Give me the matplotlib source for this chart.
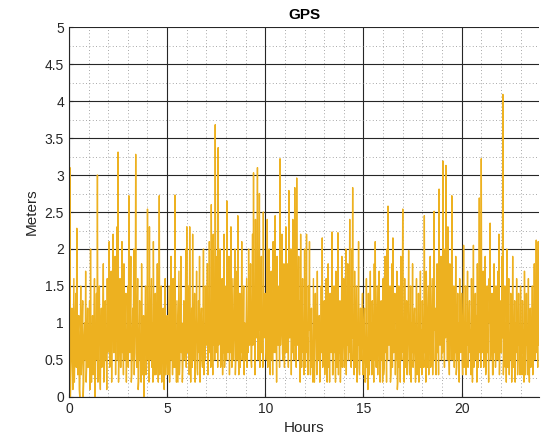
# gps_error.py

import matplotlib
matplotlib.use("Agg")
import matplotlib.pyplot as plt
import numpy as np
from matplotlib.ticker import MultipleLocator

plt.rcParams["font.family"] = ["Liberation Sans", "DejaVu Sans"]

# GPS error (meters). Two interleaved sample sets,
# each with 20 samples per hour (so 40 samples per hour in total).
peak00 = [2.1, 3.1, 0.4, 1.2, 0.1, 1.6, 0.6, 1.4, 2.28, 0.3, 1.1, 0.0, 1.5, 0.5, 1.3, 0.2, 1.0, 1.7, 0.4, 1.2]
peak01 = [0.6, 1.3, 2.0, 0.2, 1.1, 0.5, 1.6, 0.3, 1.4, 3.0, 0.8, 1.5, 0.1, 1.2, 0.7, 1.8, 0.4, 1.3, 0.9, 1.6]
peak02 = [0.7, 2.1, 0.5, 1.7, 1.0, 2.2, 0.6, 1.9, 1.2, 2.3, 3.31, 0.8, 1.6, 0.4, 2.1, 1.0, 1.8, 0.5, 1.4, 0.9]
peak03 = [1.5, 2.72, 0.6, 1.9, 0.3, 1.2, 2.0, 0.8, 3.28, 0.4, 1.6, 0.2, 1.3, 0.7, 1.8, 0.3, 1.1, 0.6, 1.5, 0.4]
peak04 = [2.54, 0.9, 2.3, 0.5, 1.6, 1.0, 2.1, 0.3, 1.4, 0.7, 1.8, 0.2, 2.72, 0.5, 1.5, 0.8, 1.2, 0.1, 1.6, 0.6]
peak05 = [1.1, 0.3, 1.5, 0.6, 1.9, 1.0, 1.6, 0.4, 2.73, 0.8, 1.3, 0.2, 1.7, 0.5, 1.9, 1.0, 0.4, 1.3, 0.7, 2.0]
peak06 = [2.3, 0.6, 1.5, 2.3, 0.2, 1.2, 2.2, 0.5, 1.4, 0.8, 1.7, 0.3, 1.3, 1.9, 0.6, 1.2, 0.4, 2.0, 0.9, 1.5]
peak07 = [0.7, 1.8, 0.5, 2.1, 1.2, 2.6, 0.9, 2.2, 1.4, 3.68, 0.6, 1.9, 3.37, 0.8, 2.0, 0.5, 1.6, 1.1, 2.2, 0.6]
peak08 = [1.5, 2.65, 0.6, 1.9, 1.1, 2.3, 0.4, 1.6, 0.8, 2.0, 0.5, 1.7, 2.45, 0.3, 1.4, 0.9, 2.1, 0.6, 1.5, 1.0]
peak09 = [0.5, 1.6, 1.0, 2.0, 0.7, 1.8, 0.4, 2.2, 3.03, 1.1, 2.4, 0.8, 3.1, 1.3, 2.75, 0.6, 1.9, 1.1, 2.5, 0.8]
peak10 = [1.4, 0.5, 2.4, 0.9, 2.0, 0.3, 1.7, 1.0, 2.1, 0.6, 2.45, 1.2, 1.9, 0.7, 1.5, 3.22, 0.9, 2.2, 0.5, 1.8]
peak11 = [1.0, 2.3, 0.6, 1.8, 2.79, 0.8, 2.0, 1.2, 2.4, 0.5, 2.83, 1.1, 2.96, 0.7, 1.9, 1.3, 2.2, 0.4, 1.6, 1.0]
peak12 = [2.0, 0.4, 2.2, 0.8, 1.5, 2.1, 0.3, 1.2, 0.7, 1.6, 0.2, 1.4, 0.9, 1.7, 0.5, 1.1, 0.3, 1.5, 2.15, 0.6]
peak13 = [1.3, 0.5, 1.6, 0.2, 1.8, 0.9, 1.4, 0.6, 2.23, 0.3, 1.5, 1.0, 1.7, 0.4, 2.22, 0.8, 1.3, 0.5, 1.9, 0.7]
peak14 = [1.6, 0.6, 2.0, 1.1, 1.8, 0.5, 2.4, 1.3, 2.0, 2.83, 0.9, 1.7, 0.4, 1.5, 1.0, 2.1, 0.3, 1.2, 0.7, 1.4]
peak15 = [0.5, 1.2, 0.2, 1.6, 0.8, 1.4, 0.3, 1.7, 1.0, 1.3, 0.6, 1.8, 2.1, 0.4, 1.5, 0.9, 1.7, 0.2, 1.3, 0.7]
peak16 = [1.6, 0.4, 1.9, 1.1, 2.0, 2.58, 0.7, 1.5, 0.3, 1.8, 2.15, 0.6, 1.4, 0.9, 1.7, 0.2, 1.5, 0.8, 1.9, 0.5]
peak17 = [2.54, 0.9, 1.6, 0.4, 1.3, 0.7, 1.98, 0.3, 1.5, 1.0, 1.8, 0.5, 1.2, 0.2, 1.6, 0.8, 1.4, 0.4, 1.7, 0.9]
peak18 = [1.3, 0.6, 2.45, 0.9, 1.7, 0.4, 1.5, 1.1, 1.9, 0.5, 1.6, 0.8, 2.51, 1.2, 0.3, 1.8, 1.0, 2.81, 0.7, 1.9]
peak19 = [1.2, 3.19, 0.9, 2.0, 3.13, 1.1, 2.3, 0.6, 1.8, 1.3, 2.72, 0.5, 1.5, 0.9, 1.9, 0.4, 1.4, 1.0, 1.6, 0.6]
peak20 = [1.4, 0.3, 2.05, 0.8, 1.5, 1.0, 1.7, 0.5, 1.3, 0.9, 1.6, 0.2, 2.05, 0.7, 1.4, 1.1, 1.8, 0.4, 2.69, 0.9]
peak21 = [3.22, 0.6, 1.7, 1.0, 1.9, 0.4, 1.5, 0.8, 1.6, 2.35, 0.7, 1.4, 0.3, 1.8, 1.0, 1.5, 0.5, 1.7, 2.2, 0.8]
peak22 = [1.3, 1.9, 4.09, 0.6, 1.5, 1.0, 2.0, 0.4, 1.6, 0.8, 1.4, 0.2, 1.9, 0.7, 1.3, 1.0, 1.6, 0.3, 1.4, 0.8]
peak23 = [1.5, 0.5, 1.3, 0.9, 1.7, 0.3, 1.4, 0.8, 1.6, 0.2, 1.2, 0.6, 1.5, 1.0, 1.8, 0.7, 2.12, 0.9, 2.1, 1.5]

low00 = [0.3, 0.0, 0.8, 0.5, 0.9, 0.2, 1.1, 0.4, 0.6, 0.9, 0.1, 0.7, 0.3, 1.0, 0.0, 0.8, 0.5, 0.2, 0.9, 0.4]
low01 = [0.9, 0.1, 0.4, 0.7, 0.3, 1.0, 0.0, 0.9, 0.5, 0.2, 1.1, 0.3, 0.8, 0.4, 1.0, 0.2, 0.7, 0.5, 0.1, 0.6]
low02 = [1.2, 0.4, 0.9, 0.2, 1.3, 0.6, 1.1, 0.3, 0.8, 0.5, 0.2, 1.0, 0.4, 1.2, 0.6, 0.3, 0.9, 1.1, 0.2, 0.7]
low03 = [0.4, 0.9, 1.2, 0.2, 0.8, 0.5, 0.3, 1.1, 0.6, 1.0, 0.1, 0.8, 0.5, 0.2, 0.9, 0.6, 0.0, 1.0, 0.3, 0.8]
low04 = [0.5, 0.2, 0.7, 1.1, 0.4, 0.2, 0.9, 0.6, 0.3, 1.0, 0.5, 0.9, 0.3, 1.0, 0.2, 0.6, 0.4, 0.7, 0.3, 0.9]
low05 = [0.4, 0.9, 0.2, 1.0, 0.5, 0.3, 0.8, 1.1, 0.4, 0.2, 0.7, 0.9, 0.3, 1.1, 0.6, 0.2, 0.8, 0.5, 1.0, 0.4]
low06 = [0.6, 1.1, 0.3, 0.8, 0.7, 0.4, 0.5, 1.0, 0.2, 0.9, 0.4, 0.8, 0.6, 0.2, 1.0, 0.5, 0.9, 0.3, 0.5, 0.7]
low07 = [1.1, 0.3, 0.9, 0.6, 0.4, 1.0, 0.3, 0.7, 0.5, 1.2, 0.9, 0.4, 0.7, 1.1, 0.4, 0.9, 0.3, 0.6, 0.4, 1.0]
low08 = [0.5, 0.9, 1.1, 0.3, 0.6, 0.8, 1.0, 0.5, 0.9, 0.3, 1.0, 0.5, 0.7, 0.9, 0.4, 0.6, 0.5, 0.9, 0.3, 0.6]
low09 = [1.0, 0.4, 0.6, 0.9, 1.1, 0.5, 1.0, 0.7, 0.9, 0.3, 0.8, 1.2, 0.5, 0.9, 0.4, 1.1, 0.6, 0.4, 0.9, 1.2]
low10 = [0.7, 1.1, 0.4, 1.0, 0.6, 1.2, 0.5, 0.3, 0.9, 1.1, 0.6, 0.2, 0.8, 1.0, 0.4, 0.7, 1.2, 0.6, 1.0, 0.4]
low11 = [0.6, 0.9, 1.1, 0.4, 0.8, 1.2, 0.3, 0.6, 0.9, 1.0, 0.7, 0.4, 0.8, 1.1, 0.5, 0.2, 0.8, 1.0, 0.6, 0.3]
low12 = [0.5, 1.0, 0.6, 0.3, 0.9, 0.6, 0.8, 0.4, 0.2, 0.9, 0.5, 0.8, 0.3, 0.6, 1.0, 0.2, 0.8, 0.6, 0.4, 1.0]
low13 = [0.3, 0.9, 0.6, 1.0, 0.4, 0.2, 0.7, 1.0, 0.3, 0.8, 0.6, 0.2, 0.5, 0.9, 0.3, 0.6, 0.2, 0.9, 0.4, 1.0]
low14 = [0.4, 1.0, 0.3, 0.7, 0.5, 0.9, 0.6, 0.4, 0.8, 0.5, 0.3, 0.6, 0.9, 0.2, 0.7, 0.4, 0.8, 0.5, 1.0, 0.3]
low15 = [0.9, 0.2, 0.6, 0.4, 0.1, 0.7, 0.9, 0.5, 0.3, 0.8, 0.2, 0.5, 0.7, 1.0, 0.3, 0.6, 0.4, 0.9, 0.5, 0.2]
low16 = [0.3, 0.9, 0.6, 0.2, 0.5, 0.8, 1.0, 0.2, 0.7, 0.4, 0.6, 1.0, 0.3, 0.5, 0.1, 0.9, 0.4, 0.2, 0.6, 1.0]
low17 = [0.6, 0.2, 0.8, 1.0, 0.3, 0.9, 0.5, 0.8, 0.2, 0.6, 0.4, 1.0, 0.6, 0.8, 0.3, 0.5, 0.2, 0.9, 0.4, 0.3]
low18 = [0.8, 0.4, 0.6, 0.2, 0.9, 1.0, 0.3, 0.7, 0.4, 1.1, 0.3, 0.5, 0.9, 0.4, 0.8, 0.6, 0.3, 0.9, 1.1, 0.5]
low19 = [0.6, 1.0, 0.4, 0.8, 1.1, 0.5, 0.9, 0.3, 0.7, 0.5, 1.0, 0.8, 0.4, 0.6, 0.3, 0.9, 0.5, 0.2, 0.8, 1.0]
low20 = [0.5, 0.9, 0.4, 0.6, 0.3, 0.7, 0.4, 1.0, 0.6, 0.3, 0.8, 0.6, 0.4, 0.9, 0.5, 0.2, 0.7, 1.0, 0.6, 0.4]
low21 = [0.7, 1.0, 0.4, 0.6, 0.3, 0.9, 0.6, 0.2, 1.0, 0.5, 0.8, 0.3, 0.9, 0.6, 0.4, 0.7, 1.0, 0.5, 0.3, 0.6]
low22 = [0.6, 0.8, 0.3, 1.0, 0.4, 0.2, 0.7, 0.9, 0.3, 0.5, 1.0, 0.6, 0.4, 0.8, 0.2, 0.6, 0.9, 0.5, 0.7, 0.3]
low23 = [0.8, 0.3, 0.6, 0.2, 0.9, 0.5, 0.7, 0.3, 0.5, 1.0, 0.4, 0.8, 0.3, 0.7, 0.5, 0.9, 0.6, 0.4, 0.7, 0.9]

peaks = [peak00, peak01, peak02, peak03, peak04, peak05, peak06, peak07, peak08, peak09, peak10, peak11,
         peak12, peak13, peak14, peak15, peak16, peak17, peak18, peak19, peak20, peak21, peak22, peak23]
lows = [low00, low01, low02, low03, low04, low05, low06, low07, low08, low09, low10, low11,
        low12, low13, low14, low15, low16, low17, low18, low19, low20, low21, low22, low23]

# interleave: peak sample, then low sample
error_m = np.column_stack([np.concatenate(peaks), np.concatenate(lows)]).ravel()
hours = np.arange(len(error_m)) / 40.0

fig = plt.figure(figsize=(5.43, 4.44), dpi=100)
ax = fig.add_axes([0.127, 0.106, 0.866, 0.833])

ax.plot(hours, error_m, color="#EDB120", linewidth=1.0)

ax.set_xlim(0, 23.95)
ax.set_ylim(0, 5)
ax.xaxis.set_major_locator(MultipleLocator(5))
ax.xaxis.set_minor_locator(MultipleLocator(1))
ax.yaxis.set_minor_locator(MultipleLocator(0.25))
ax.set_yticks(np.arange(0, 5.01, 0.5))
ax.set_yticklabels(["0", "0.5", "1", "1.5", "2", "2.5", "3", "3.5", "4", "4.5", "5"])

ax.grid(which="major", color="#262626", linewidth=0.8, linestyle="-")
ax.grid(which="minor", color="#8c8c8c", linewidth=0.6, linestyle=(0, (1, 3)))
ax.set_axisbelow(True)

for side in ["top", "right"]:
    ax.spines[side].set_visible(False)
for side in ["left", "bottom"]:
    ax.spines[side].set_color("#262626")
    ax.spines[side].set_linewidth(0.8)

ax.tick_params(which="both", direction="in", labelsize=10, colors="#262626")
ax.tick_params(which="minor", length=0)
ax.tick_params(which="major", length=3)

ax.set_title("GPS", fontsize=11, fontweight="bold", pad=6)
ax.set_xlabel("Hours", fontsize=11, color="#262626")
ax.set_ylabel("Meters", fontsize=11, color="#262626")

fig.savefig("out.png", dpi=100)
